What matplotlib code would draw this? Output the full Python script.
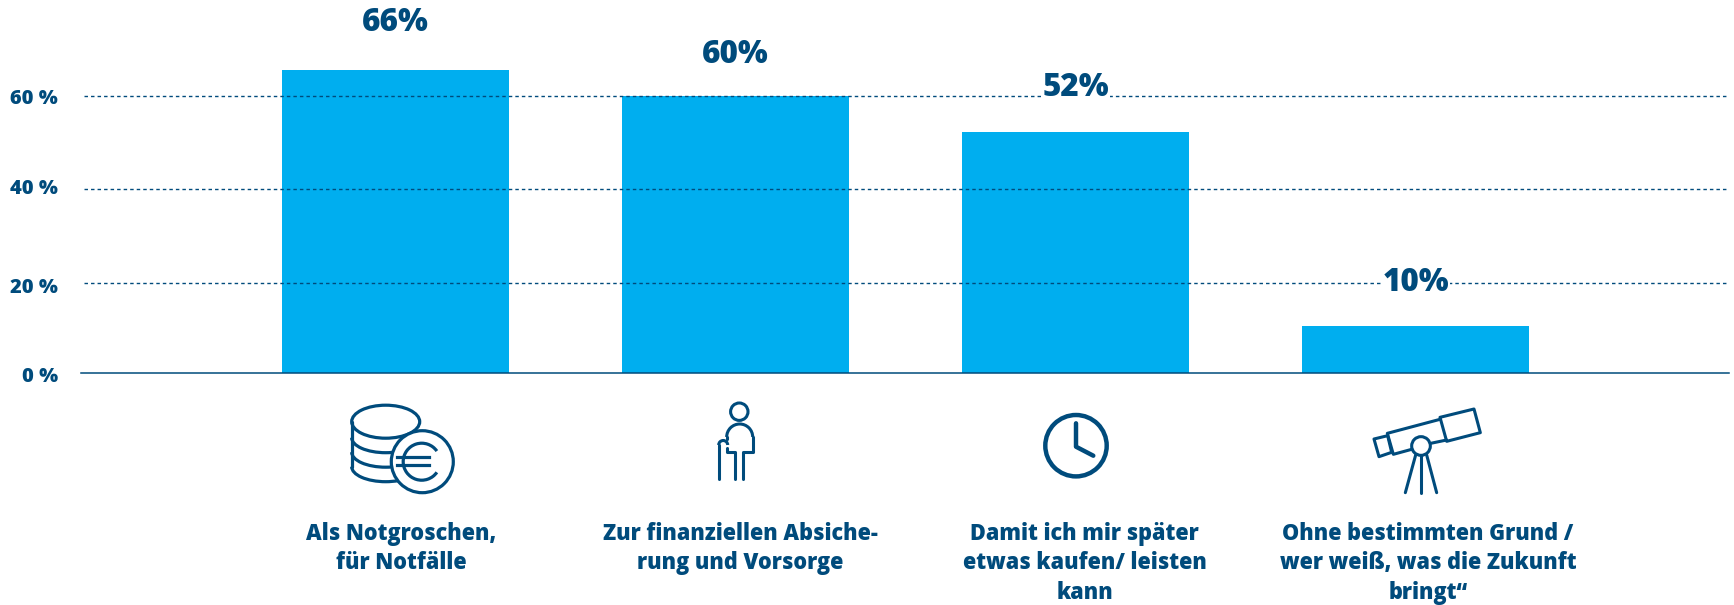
import matplotlib
matplotlib.use("Agg")
import matplotlib.pyplot as plt
from matplotlib.patches import Arc, Circle, Ellipse, Polygon

DARK = "#004B7C"
BLUE = "#00AEEF"

values = [65.6, 60, 52.2, 10.0]
value_labels = ["66%", "60%", "52%", "10%"]
value_label_heights = [75.9, 68.9, 61.8, 19.5]
grid_levels = [60, 39.7, 19.4]
tick_heights = [59.3, 39.8, 18.3, -1.0]
tick_labels = ["60 %", "40 %", "20 %", "0 %"]
categories = [
    ["Als Notgroschen,", "für Notfälle"],
    ["Zur finanziellen Absiche-", "rung und Vorsorge"],
    ["Damit ich mir später", "etwas kaufen/ leisten", "kann"],
    ["Ohne bestimmten Grund /", "wer weiß, was die Zukunft", "bringt“"],
]
category_centers = [401, 740, 1084.5, 1428]

W, H = 1734, 605
WEIGHT = 800


def px_axes_rect(left, right, top, bottom):
    return [left / W, 1 - bottom / H, (right - left) / W, (bottom - top) / H]


def line(ov, pts, lw=2.2):
    xs, ys = zip(*pts)
    ov.plot(xs, ys, color=DARK, lw=lw, solid_capstyle="round", solid_joinstyle="round")


def draw_coins(ov):
    lw = 2.3
    ov.add_patch(Ellipse((385.7, 421.7), 68, 33, fill=False, ec=DARK, lw=lw))
    line(ov, [(352, 422), (352, 467)], lw)
    for cy in [437.7, 452.2, 466.7]:
        ov.add_patch(Arc((385.7, cy), 68, 30, theta1=0, theta2=180, ec=DARK, lw=lw))
    # ylim is inverted so theta 0-180 is the lower half
    ov.add_patch(Circle((422.3, 461.7), 31, fc="white", ec=DARK, lw=lw, zorder=3))
    ov.add_patch(Arc((421.7, 461.7), 37, 37, theta1=35, theta2=325, ec=DARK, lw=lw, zorder=4))
    for y in [457.3, 465]:
        ov.plot([397, 429], [y, y], color=DARK, lw=lw, zorder=4)


def draw_person(ov):
    lw = 2.2
    ov.add_patch(Circle((739.3, 411.7), 8.7, fill=False, ec=DARK, lw=lw))
    ov.add_patch(Arc((739.7, 437), 26, 26, theta1=180, theta2=360, ec=DARK, lw=lw))
    line(ov, [(752.7, 437), (752.7, 451.7), (743.3, 451.7), (743.3, 479)], lw)
    line(ov, [(726.7, 437), (726.7, 439)], lw)
    line(ov, [(726.7, 448), (726.7, 451.7), (735, 451.7), (735, 479)], lw)
    line(ov, [(718.7, 479), (718.7, 445)], lw)
    ov.add_patch(Arc((723.2, 445), 9, 9, theta1=180, theta2=360, ec=DARK, lw=lw))


def draw_clock(ov):
    lw = 3.2
    ov.add_patch(Circle((1076, 445.7), 30.7, fill=False, ec=DARK, lw=lw))
    line(ov, [(1076, 423.3), (1076, 446.7), (1093.3, 455.7)], lw)


def draw_telescope(ov):
    lw = 2.2

    def z(*pts):
        return [(1000 + x / 3, 380 + y / 3) for x, y in pts]

    ov.add_patch(Polygon(z((1320, 112), (1422, 87), (1441, 158), (1340, 184)),
                         fill=False, ec=DARK, lw=lw, joinstyle="round"))
    ov.add_patch(Polygon(z((1122, 177), (1163, 167), (1175, 217), (1137, 230)),
                         fill=False, ec=DARK, lw=lw, joinstyle="round"))
    line(ov, z((1320, 118), (1162, 160), (1180, 223), (1235, 208)), lw)
    line(ov, z((1292, 190), (1340, 180)), lw)
    ov.add_patch(Circle(z((1263, 198))[0], 28 / 3, fill=False, ec=DARK, lw=lw))
    line(ov, z((1247, 225), (1216, 338)), lw)
    line(ov, z((1263, 228), (1263, 340)), lw)
    line(ov, z((1280, 225), (1310, 338)), lw)


def main() -> None:
    plt.rcParams["font.family"] = ["Open Sans", "DejaVu Sans"]

    fig = plt.figure(figsize=(W / 100, H / 100), dpi=100, facecolor="white")
    ax = fig.add_axes(px_axes_rect(81, 1729, 0, 372.5))
    ax.patch.set_alpha(0)

    xs = list(range(len(values)))
    ax.bar(xs, values, width=0.668, color=BLUE, zorder=2)

    ax.set_xticks([])
    ax.set_yticks([])
    ax.set_xlim(-0.925, 3.922)
    ax.set_ylim(0, 80.8)

    # tick labels as plain text, the 0 % one sits a bit below the axis
    trans = ax.get_yaxis_transform()
    for h, lab in zip(tick_heights, tick_labels):
        ax.annotate(lab, (0, h), xycoords=trans, xytext=(-16.5, 0),
                    textcoords="offset points", ha="right", va="center",
                    fontsize=14.4, color=DARK, fontweight=WEIGHT, annotation_clip=False)

    ax.hlines(grid_levels, -0.916, 3.922, color=DARK, lw=1.0,
              linestyles=(0, (2.5, 2.2)), zorder=3)

    for x, h, lab in zip(xs, value_label_heights, value_labels):
        ax.text(x, h, lab, ha="center", va="center", fontsize=22.6, color=DARK,
                fontweight=WEIGHT, zorder=5,
                bbox=dict(fc="white", ec="none", pad=1.0))

    for side in ["top", "right", "left"]:
        ax.spines[side].set_visible(False)
    ax.spines["bottom"].set_color(DARK)
    ax.spines["bottom"].set_linewidth(1.1)
    ax.spines["bottom"].set_zorder(4)

    # overlay in pixel coordinates for the icons and the captions
    ov = fig.add_axes([0, 0, 1, 1])
    ov.set_xlim(0, W)
    ov.set_ylim(H, 0)
    ov.axis("off")
    ov.patch.set_alpha(0)

    draw_coins(ov)
    draw_person(ov)
    draw_clock(ov)
    draw_telescope(ov)

    # one text per line, the multiline spacing came out too wide
    for cx, cat in zip(category_centers, categories):
        for i, txt in enumerate(cat):
            ov.text(cx, 540 + 29.4 * i, txt, ha="center", va="baseline", fontsize=15.55,
                    color=DARK, fontweight=WEIGHT)

    fig.savefig("out.png", dpi=100)
    plt.close(fig)


if __name__ == "__main__":
    main()
